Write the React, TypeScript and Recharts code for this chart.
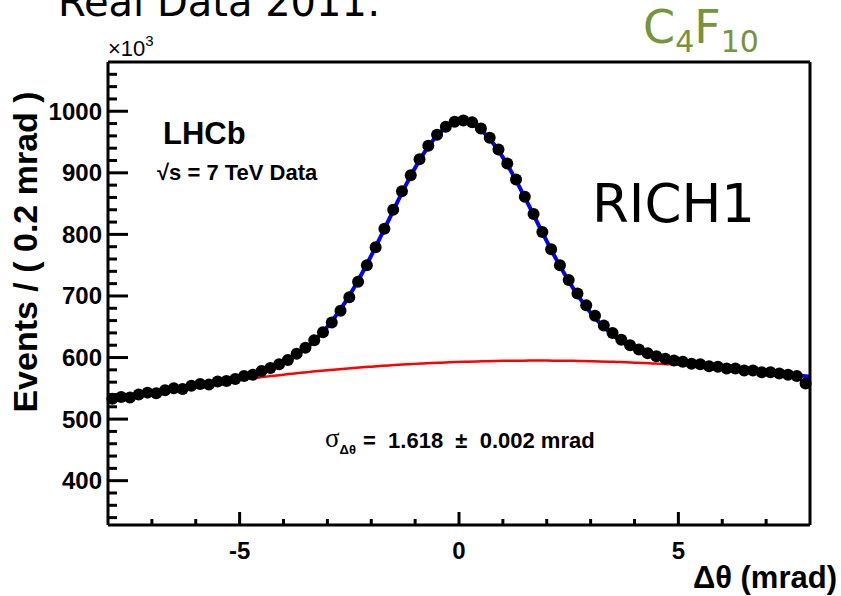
import { ComposedChart, Line, Scatter, XAxis, YAxis } from "recharts"

// Delta theta grid (mrad) where the fit curves are drawn
const fitX = [
  -8, -7.8, -7.6, -7.4, -7.2, -7, -6.8, -6.6, -6.4, -6.2,
  -6, -5.8, -5.6, -5.4, -5.2, -5, -4.8, -4.6, -4.4, -4.2,
  -4, -3.8, -3.6, -3.4, -3.2, -3, -2.8, -2.6, -2.4, -2.2,
  -2, -1.8, -1.6, -1.4, -1.2, -1, -0.8, -0.6, -0.4, -0.2,
  0, 0.2, 0.4, 0.6, 0.8, 1, 1.2, 1.4, 1.6, 1.8,
  2, 2.2, 2.4, 2.6, 2.8, 3, 3.2, 3.4, 3.6, 3.8,
  4, 4.2, 4.4, 4.6, 4.8, 5, 5.2, 5.4, 5.6, 5.8,
  6, 6.2, 6.4, 6.6, 6.8, 7, 7.2, 7.4, 7.6, 7.8,
  8,
]

// total fit (blue), events x10^3
const totalFit = [
  530.0, 532.6, 535.2, 537.7, 540.2, 542.6, 544.9, 547.2, 549.5, 551.9,
  554.3, 556.7, 559.2, 561.9, 564.3, 567.3, 570.7, 574.7, 579.3, 584.7,
  591.4, 599.5, 609.1, 620.5, 634.2, 650.1, 668.5, 689.3, 712.7, 738.1,
  765.5, 794.2, 823.7, 853.2, 881.6, 908.2, 931.9, 952.0, 967.5, 977.9,
  982.6, 981.7, 975.0, 962.9, 946.0, 925.0, 900.7, 873.9, 845.9, 817.2,
  789.0, 761.8, 736.3, 712.7, 691.6, 672.9, 656.7, 642.9, 631.3, 621.8,
  613.9, 607.6, 602.5, 598.4, 595.1, 592.4, 590.1, 588.2, 586.5, 585.1,
  583.7, 582.3, 580.9, 579.5, 578.1, 576.7, 575.3, 573.8, 572.2, 570.6,
  569.0,
]

// background component (red)
const backgroundFit = [
  530.0, 532.6, 535.2, 537.7, 540.2, 542.6, 544.9, 547.2, 549.5, 551.7,
  553.8, 555.9, 557.9, 559.9, 561.8, 563.7, 565.5, 567.3, 569.0, 570.6,
  572.2, 573.8, 575.3, 576.7, 578.1, 579.4, 580.7, 581.9, 583.1, 584.2,
  585.2, 586.2, 587.2, 588.1, 588.9, 589.7, 590.4, 591.1, 591.7, 592.3,
  592.8, 593.3, 593.7, 594.0, 594.3, 594.6, 594.8, 594.9, 595.0, 595.0,
  595.0, 594.9, 594.8, 594.6, 594.3, 594.0, 593.7, 593.3, 592.8, 592.3,
  591.7, 591.1, 590.4, 589.7, 588.9, 588.1, 587.2, 586.2, 585.2, 584.2,
  583.1, 581.9, 580.7, 579.4, 578.1, 576.7, 575.3, 573.8, 572.2, 570.6,
  569.0,
]

// bin centres of the 0.2 mrad bins
const binCentres = [
  -7.9, -7.7, -7.5, -7.3, -7.1, -6.9, -6.7, -6.5, -6.3, -6.1,
  -5.9, -5.7, -5.5, -5.3, -5.1, -4.9, -4.7, -4.5, -4.3, -4.1,
  -3.9, -3.7, -3.5, -3.3, -3.1, -2.9, -2.7, -2.5, -2.3, -2.1,
  -1.9, -1.7, -1.5, -1.3, -1.1, -0.9, -0.7, -0.5, -0.3, -0.1,
  0.1, 0.3, 0.5, 0.7, 0.9, 1.1, 1.3, 1.5, 1.7, 1.9,
  2.1, 2.3, 2.5, 2.7, 2.9, 3.1, 3.3, 3.5, 3.7, 3.9,
  4.1, 4.3, 4.5, 4.7, 4.9, 5.1, 5.3, 5.5, 5.7, 5.9,
  6.1, 6.3, 6.5, 6.7, 6.9, 7.1, 7.3, 7.5, 7.7, 7.9,
]

// data points, events x10^3
const events = [
  533, 536, 535, 540, 543, 542, 547, 550, 549, 554,
  557, 556, 561, 562, 565, 570, 572, 578, 583, 589,
  596, 606, 616, 628, 641, 657, 676, 698, 723, 750,
  779, 809, 840, 870, 896, 922, 944, 962, 975, 983,
  985, 982, 972, 957, 938, 915, 889, 861, 833, 804,
  776, 750, 726, 704, 685, 668, 652, 640, 629, 620,
  613, 607, 602, 598, 595, 593, 590, 589, 586, 585,
  582, 582, 579, 579, 576, 576, 574, 572, 570, 558,
]

const xTicks = [-7, -6, -5, -4, -3, -2, -1, 0, 1, 2, 3, 4, 5, 6, 7]
const yTicks = [
  340, 360, 380, 400, 420, 440, 460, 480, 500, 520, 540, 560, 580, 600,
  620, 640, 660, 680, 700, 720, 740, 760, 780, 800, 820, 840, 860, 880,
  900, 920, 940, 960, 980, 1000, 1020, 1040, 1060,
]

const dataPoints = binCentres.map((x, i) => ({ x, y: events[i] }))
const totalPoints = fitX.map((x, i) => ({ x, y: totalFit[i] }))
const backgroundPoints = fitX.map((x, i) => ({ x, y: backgroundFit[i] }))

const arial = "'Liberation Sans', Arial, sans-serif"
const verdana = "'DejaVu Sans', Verdana, sans-serif"

// ROOT-style ticks: drawn inside the frame, labels only on the major ones
const BottomTick = ({ x, y, payload }: any) => {
  const major = payload.value % 5 === 0
  return (
    <g>
      <line x1={x} x2={x} y1={y} y2={y - (major ? 13 : 6)} stroke="#000" strokeWidth={3} />
      {major && (
        <text x={x} y={y + 34} textAnchor="middle" fontFamily={arial} fontWeight="bold" fontSize={24} fill="#000">
          {payload.value}
        </text>
      )}
    </g>
  )
}

const TopTick = ({ x, y, payload }: any) => {
  const major = payload.value % 5 === 0
  return <line x1={x} x2={x} y1={y} y2={y + (major ? 12 : 6)} stroke="#000" strokeWidth={3} />
}

const LeftTick = ({ x, y, payload }: any) => {
  const major = payload.value % 100 === 0
  return (
    <g>
      <line x1={x} x2={x + (major ? 20 : 9)} y1={y} y2={y} stroke="#000" strokeWidth={3} />
      {major && (
        <text x={x - 6} y={y + 8.5} textAnchor="end" fontFamily={arial} fontWeight="bold" fontSize={24} fill="#000">
          {payload.value}
        </text>
      )}
    </g>
  )
}

const RightTick = ({ x, y, payload }: any) => {
  const major = payload.value % 100 === 0
  return <line x1={x} x2={x - (major ? 18 : 9)} y1={y} y2={y} stroke="#000" strokeWidth={3} />
}

const Dot = ({ cx, cy }: any) => <circle cx={cx} cy={cy} r={6} fill="#000" />

export default function App() {
  return (
    <div style={{ position: "absolute", left: 0, top: 0, width: 841, height: 596, background: "#fff" }}>
      <ComposedChart width={841} height={596} margin={{ top: 0, right: 0, bottom: 0, left: 0 }}>
        <XAxis
          dataKey="x"
          type="number"
          domain={[-8, 8]}
          ticks={xTicks}
          interval={0}
          height={71}
          tickSize={0}
          tickMargin={0}
          tickLine={false}
          axisLine={{ stroke: "#000", strokeWidth: 3 }}
          tick={<BottomTick />}
        />
        <XAxis
          xAxisId="top"
          orientation="top"
          type="number"
          domain={[-8, 8]}
          ticks={xTicks}
          interval={0}
          height={62}
          tickSize={0}
          tickMargin={0}
          tickLine={false}
          axisLine={{ stroke: "#000", strokeWidth: 3 }}
          tick={<TopTick />}
        />
        <YAxis
          dataKey="y"
          type="number"
          domain={[328, 1080]}
          ticks={yTicks}
          interval={0}
          width={108}
          tickSize={0}
          tickMargin={0}
          tickLine={false}
          axisLine={{ stroke: "#000", strokeWidth: 3 }}
          tick={<LeftTick />}
        />
        <YAxis
          yAxisId="right"
          orientation="right"
          type="number"
          domain={[328, 1080]}
          ticks={yTicks}
          interval={0}
          width={31}
          tickSize={0}
          tickMargin={0}
          tickLine={false}
          axisLine={{ stroke: "#000", strokeWidth: 3 }}
          tick={<RightTick />}
        />
        <Scatter data={dataPoints} dataKey="y" shape={<Dot />} isAnimationActive={false} />
        <Line data={backgroundPoints} dataKey="y" type="monotone" stroke="#ff0000" strokeWidth={2.5} dot={false} activeDot={false} isAnimationActive={false} />
        <Line data={totalPoints} dataKey="y" type="monotone" stroke="#0000ff" strokeWidth={4} dot={false} activeDot={false} isAnimationActive={false} />
      </ComposedChart>

      <svg width={841} height={596} style={{ position: "absolute", left: 0, top: 0, pointerEvents: "none" }}>
        <text x={58} y={16} fontFamily={verdana} fontSize={40} fill="#000">Real Data 2011:</text>
        <text x={643} y={43} fontFamily={verdana} fontSize={46} fill="#77933c">
          C<tspan fontSize={30} dy={9}>4</tspan>
          <tspan fontSize={46} dy={-9}>F</tspan>
          <tspan fontSize={30} dy={9}>10</tspan>
        </text>
        <text x={108} y={56} fontFamily={arial} fontSize={22} fill="#000">
          ×10<tspan fontSize={15} dy={-10}>3</tspan>
        </text>
        <text x={163} y={144} fontFamily={arial} fontWeight="bold" fontSize={31} fill="#000">LHCb</text>
        <text x={157} y={180} fontFamily={arial} fontWeight="bold" fontSize={22} fill="#000">
          √s = 7 TeV Data
        </text>
        <text x={592} y={222} fontFamily={verdana} fontSize={53} fill="#000">RICH1</text>
        <text x={325} y={447} fontFamily="'Liberation Serif', serif" fontSize={27} fill="#000">
          σ<tspan fontSize={13} fontFamily={arial} fontWeight="bold" dy={7}>Δθ</tspan>
        </text>
        <text x={363} y={448} fontFamily={arial} fontWeight="bold" fontSize={22} fill="#000" style={{ whiteSpace: "pre" }}>
          {"=  1.618  ±  0.002 mrad"}
        </text>
        <text
          x={37}
          y={252}
          transform="rotate(-90 37 252)"
          textAnchor="middle"
          fontFamily={arial}
          fontWeight="bold"
          fontSize={34}
          fill="#000"
        >
          Events / ( 0.2 mrad )
        </text>
        <text x={837} y={588} textAnchor="end" fontFamily={arial} fontWeight="bold" fontSize={31} fill="#000">
          Δθ (mrad)
        </text>
      </svg>
    </div>
  )
}
